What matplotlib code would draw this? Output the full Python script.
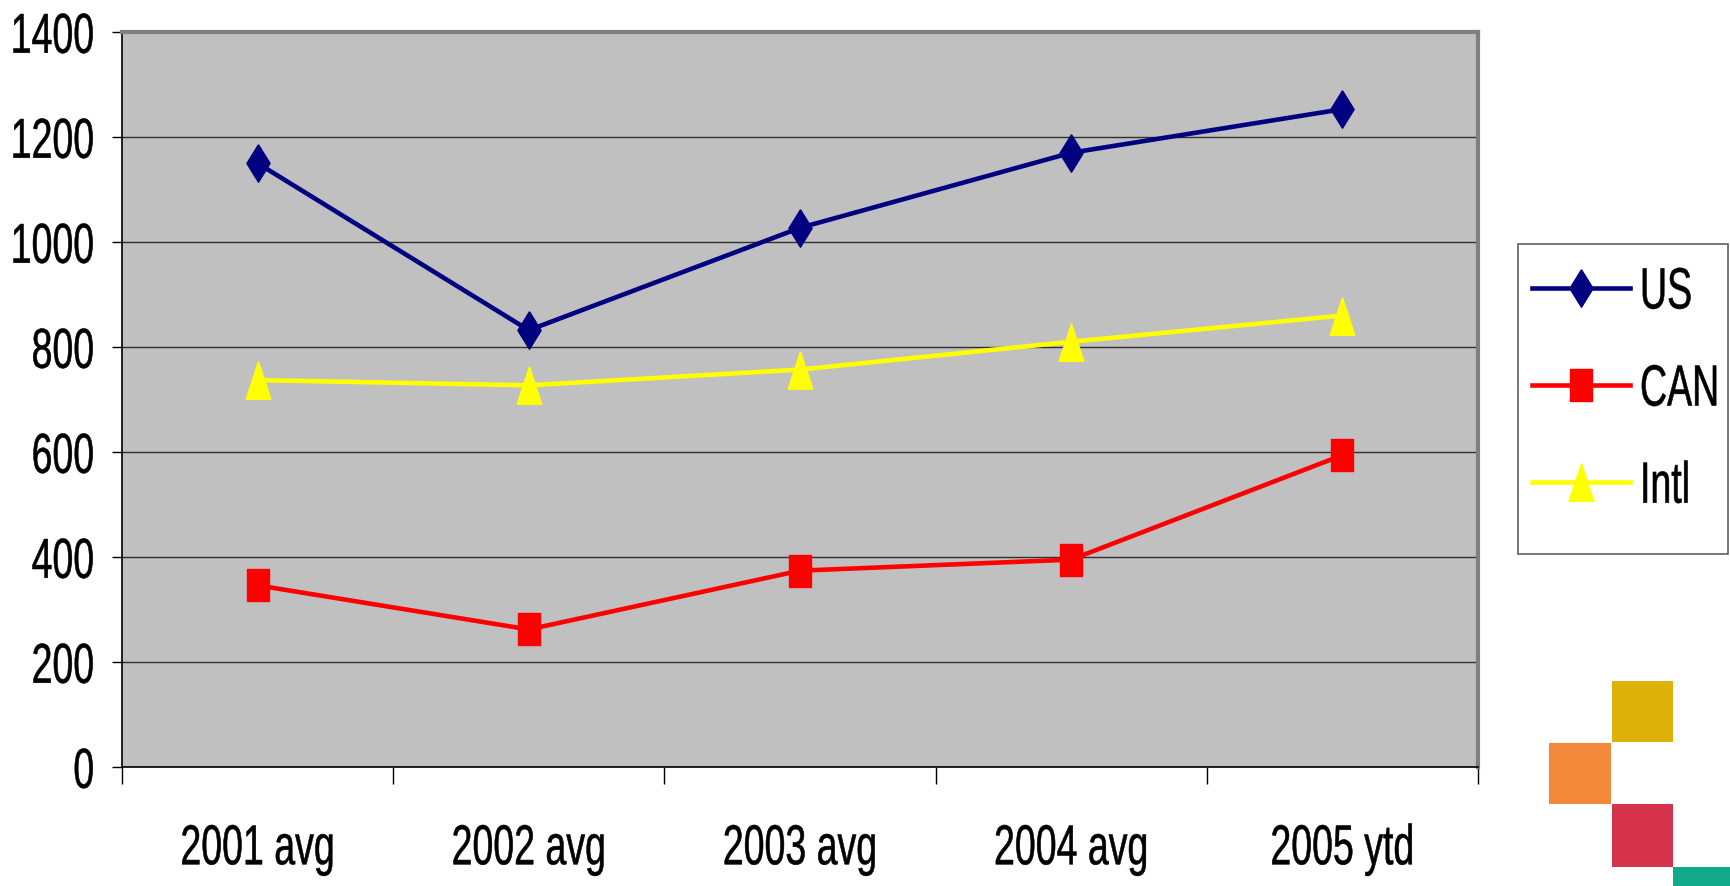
import matplotlib.pyplot as plt
from matplotlib.patches import Rectangle
from matplotlib.patheffects import AbstractPathEffect
from matplotlib.transforms import Affine2D
from matplotlib.ticker import FixedLocator

# chart data
categories = ["2001 avg", "2002 avg", "2003 avg", "2004 avg", "2005 ytd"]
us = [1150, 832, 1027, 1170, 1253]
can = [346, 262, 374, 395, 594]
intl = [737, 727, 757, 810, 860]
yticks = [0, 200, 400, 600, 800, 1000, 1200, 1400]

plt.rcParams['font.family'] = ['Liberation Sans', 'DejaVu Sans']


# the source font is a tall, condensed one: stretch glyphs vertically
# around the middle of the cap height and thicken strokes a bit
# (text stays real text)
class Tall(AbstractPathEffect):
    def __init__(self, sy, lw=0.4):
        super().__init__()
        self.sy = sy
        self.lw = lw

    def draw_path(self, renderer, gc, tpath, affine, rgbFace=None):
        t = Affine2D().translate(0, -36).scale(1, self.sy).translate(0, 36) + affine
        gc0 = renderer.new_gc()
        gc0.copy_properties(gc)
        if rgbFace is not None:
            gc0.set_foreground(rgbFace)
            gc0.set_linewidth(self.lw)
        renderer.draw_path(gc0, tpath, t, rgbFace)
        gc0.restore()


# squashed markers
diamond = [(0, 1), (0.62, 0), (0, -1), (-0.62, 0), (0, 1)]
square = [(-0.66, -1), (0.66, -1), (0.66, 1), (-0.66, 1), (-0.66, -1)]
triangle = [(0, 1), (0.66, -1), (-0.66, -1), (0, 1)]

W, H = 1731, 887
fig = plt.figure(figsize=(W / 100, H / 100), dpi=100)
ax = fig.add_axes([122 / W, 1 - 768 / H, (1478 - 122) / W, (768 - 33) / H])
ax.set_facecolor('#C0C0C0')

x = list(range(len(categories)))
ax.plot(x, us, color='#000080', lw=3.3, marker=diamond, ms=27, label='US')
ax.plot(x, can, color='#FF0000', lw=3.3, marker=square, ms=23, label='CAN')
ax.plot(x, intl, color='#FFFF00', lw=3.3, marker=triangle, ms=27, label='Intl')

ax.set_ylim(0, 1400)
ax.set_xlim(-0.5, 4.5)
ax.set_yticks(yticks)
ax.yaxis.grid(True, color='#303030', lw=1)
ax.set_axisbelow(True)

ax.set_xticks(x)
ax.set_xticklabels(categories)
ax.xaxis.set_minor_locator(FixedLocator([i - 0.5 for i in range(len(categories) + 1)]))
ax.tick_params(axis='x', which='major', length=0, pad=45, labelsize=27)
ax.tick_params(axis='x', which='minor', length=12, width=1, color='black')
ax.tick_params(axis='y', length=7, width=1, pad=13, labelsize=27)

for lbl in ax.get_xticklabels() + ax.get_yticklabels():
    lbl.set_path_effects([Tall(1.5)])

for s in ['top', 'right']:
    ax.spines[s].set_color('#808080')
    ax.spines[s].set_linewidth(3)
for s in ['left', 'bottom']:
    ax.spines[s].set_color('black')
    ax.spines[s].set_linewidth(1.2)

leg = ax.legend(loc='upper left', bbox_to_anchor=(1532 / W, 1 - 274 / H),
                bbox_transform=fig.transFigure, fontsize=27, frameon=False,
                handlelength=2.61, handletextpad=0.27, labelspacing=1.63,
                borderpad=0, borderaxespad=0, numpoints=1)
for t in leg.get_texts():
    t.set_path_effects([Tall(1.55)])

# legend box
fig.add_artist(Rectangle((1518 / W, 1 - 555 / H), 210 / W, 310 / H,
                         transform=fig.transFigure, fill=False,
                         edgecolor='#606060', lw=1.2))

# corner decoration squares
for (x0, y0, w, h, c) in [(1612, 682, 61, 61, '#DDB00A'),
                          (1549, 744, 62, 61, '#F3873A'),
                          (1612, 805, 61, 63, '#D4334A'),
                          (1673, 868, 58, 19, '#12A88A')]:
    fig.add_artist(Rectangle((x0 / W, 1 - (y0 + h) / H), w / W, h / H,
                             transform=fig.transFigure, color=c, lw=0))

fig.savefig('out.png', dpi=100)
